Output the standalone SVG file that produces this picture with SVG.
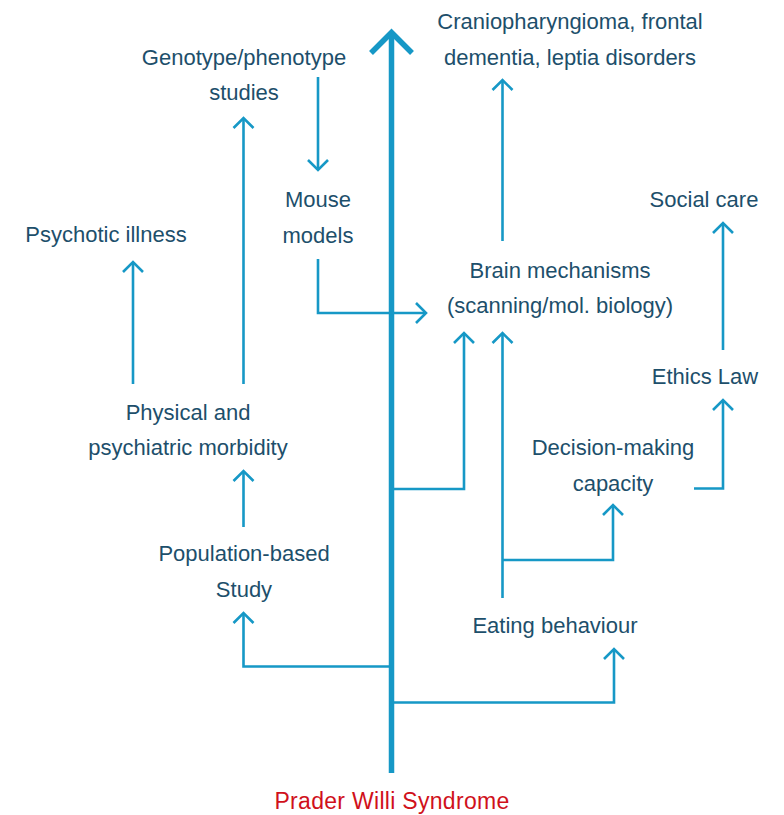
<svg xmlns="http://www.w3.org/2000/svg" width="784" height="815" viewBox="0 0 784 815">
  <defs>
    <style>
      .lbl { font-family: "Liberation Sans", Arial, Helvetica, sans-serif; font-size: 22px; fill: #1d4f6b; text-anchor: middle; }
      .root { fill: #d0111b; font-size: 23px; }
      .link { fill: none; stroke: #1698c6; stroke-width: 2.6; stroke-linecap: butt; stroke-linejoin: miter; }
      .trunk { fill: none; stroke: #1698c6; stroke-width: 5.5; }
      .head { fill: none; stroke: #1698c6; stroke-width: 2.6; }
    </style>
  </defs>
  <rect width="784" height="815" fill="#ffffff"/>

  <!-- main trunk with its open arrowhead -->
  <g id="trunk">
    <line class="trunk" x1="391.5" y1="773" x2="391.5" y2="34"/>
    <polyline class="trunk" points="371,53 391.5,32.5 412,53"/>
  </g>

  <!-- connectors -->
  <g id="connectors">
    <!-- Genotype/phenotype studies -> Mouse models -->
    <line class="link" x1="318" y1="77" x2="318" y2="170"/>
    <polyline class="head" points="308,160 318,170 328,160"/>
    <!-- Mouse models -> Brain mechanisms -->
    <polyline class="link" points="318,259 318,313 426,313"/>
    <polyline class="head" points="416,303 426,313 416,323"/>
    <!-- trunk -> Brain mechanisms -->
    <polyline class="link" points="392,489 464,489 464,333"/>
    <polyline class="head" points="454,343 464,333 474,343"/>
    <!-- Eating behaviour -> Brain mechanisms -->
    <line class="link" x1="502.5" y1="598" x2="502.5" y2="333"/>
    <polyline class="head" points="492.5,343 502.5,333 512.5,343"/>
    <!-- Eating behaviour -> Decision-making capacity -->
    <polyline class="link" points="502.5,560 613,560 613,505"/>
    <polyline class="head" points="603,515 613,505 623,515"/>
    <!-- trunk -> Population-based Study -->
    <polyline class="link" points="392,666.5 243.5,666.5 243.5,613"/>
    <polyline class="head" points="233.5,623 243.5,613 253.5,623"/>
    <!-- trunk -> Eating behaviour -->
    <polyline class="link" points="392,702.5 614,702.5 614,649"/>
    <polyline class="head" points="604,659 614,649 624,659"/>
    <!-- Population-based Study -> Physical and psychiatric morbidity -->
    <line class="link" x1="243.5" y1="527" x2="243.5" y2="471"/>
    <polyline class="head" points="233.5,481 243.5,471 253.5,481"/>
    <!-- Physical morbidity -> Psychotic illness -->
    <line class="link" x1="133" y1="384" x2="133" y2="262"/>
    <polyline class="head" points="123,272 133,262 143,272"/>
    <!-- Physical morbidity -> Genotype/phenotype studies -->
    <line class="link" x1="243.5" y1="384" x2="243.5" y2="118"/>
    <polyline class="head" points="233.5,128 243.5,118 253.5,128"/>
    <!-- Brain mechanisms -> Craniopharyngioma -->
    <line class="link" x1="502.5" y1="241" x2="502.5" y2="80"/>
    <polyline class="head" points="492.5,90 502.5,80 512.5,90"/>
    <!-- Decision-making capacity -> Ethics Law -->
    <polyline class="link" points="694,488.5 723,488.5 723,400"/>
    <polyline class="head" points="713,410 723,400 733,410"/>
    <!-- Ethics Law -> Social care -->
    <line class="link" x1="723" y1="350" x2="723" y2="223"/>
    <polyline class="head" points="713,233 723,223 733,233"/>
  </g>

  <!-- nodes -->
  <g id="cranio">
    <text class="lbl" x="570" y="29">Craniopharyngioma, frontal</text>
    <text class="lbl" x="570" y="65">dementia, leptia disorders</text>
  </g>
  <g id="genotype">
    <text class="lbl" x="244" y="65">Genotype/phenotype</text>
    <text class="lbl" x="244" y="100">studies</text>
  </g>
  <g id="mouse">
    <text class="lbl" x="318" y="207">Mouse</text>
    <text class="lbl" x="318" y="243">models</text>
  </g>
  <g id="social">
    <text class="lbl" x="704" y="207">Social care</text>
  </g>
  <g id="psychotic">
    <text class="lbl" x="106" y="242">Psychotic illness</text>
  </g>
  <g id="brain">
    <text class="lbl" x="560" y="278">Brain mechanisms</text>
    <text class="lbl" x="560" y="313">(scanning/mol. biology)</text>
  </g>
  <g id="ethics">
    <text class="lbl" x="705" y="384">Ethics Law</text>
  </g>
  <g id="physical">
    <text class="lbl" x="188" y="420">Physical and</text>
    <text class="lbl" x="188" y="455">psychiatric morbidity</text>
  </g>
  <g id="decision">
    <text class="lbl" x="613" y="455">Decision-making</text>
    <text class="lbl" x="613" y="491">capacity</text>
  </g>
  <g id="population">
    <text class="lbl" x="244" y="561">Population-based</text>
    <text class="lbl" x="244" y="597">Study</text>
  </g>
  <g id="eating">
    <text class="lbl" x="555" y="633">Eating behaviour</text>
  </g>
  <g id="pws">
    <text class="lbl root" x="392" y="809" letter-spacing="0.3">Prader Willi Syndrome</text>
  </g>
</svg>
